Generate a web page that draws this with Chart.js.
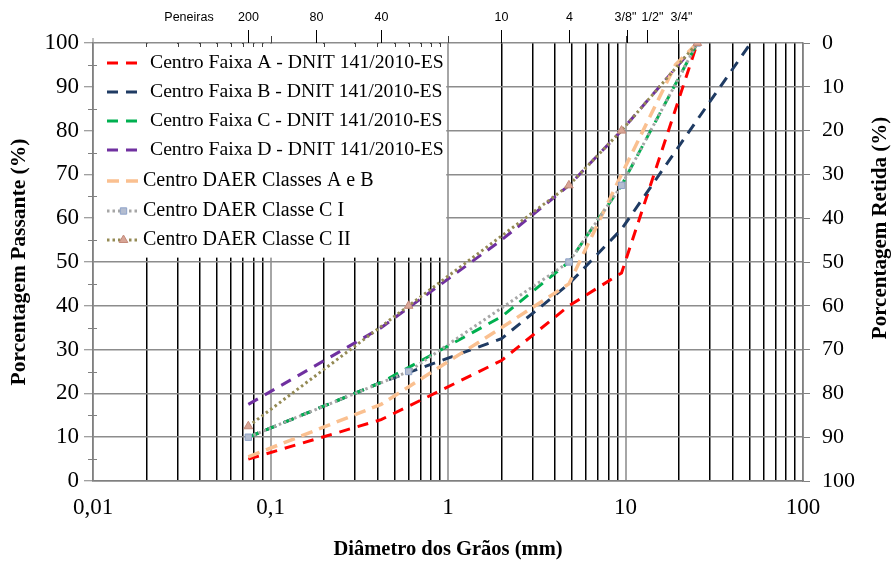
<!DOCTYPE html>
<html>
<head>
<meta charset="utf-8">
<script src="https://cdn.jsdelivr.net/npm/chart.js@4.4.0/dist/chart.umd.min.js"></script>
<style>
  html, body { margin: 0; padding: 0; background: #fff; }
  #wrap { position: relative; width: 891px; height: 563px; }
</style>
</head>
<body>
<div id="wrap"><canvas id="curvas" width="891" height="563"></canvas></div>
<script>
// aberturas das peneiras usadas por cada serie (mm)
const dnitSieves  = [0.075, 0.42, 2.0, 4.8, 9.5, 25.4];
const faixaBSieves = [0.075, 0.42, 2.0, 4.8, 9.5, 25.4, 50.8];
const daerABSieves = [0.075, 0.42, 2.0, 4.8, 9.5, 19.1, 25.4];
const daerCSieves  = [0.075, 0.6, 4.8, 9.5, 25.4];

// porcentagem passante (centro das faixas)
const faixaA = [5, 14, 27.5, 40, 47.5, 100];
const faixaB = [10, 22.5, 32.5, 45, 57.5, 82.5, 100];
const faixaC = [10, 22.5, 37.5, 50, 67.5, 100];
const faixaD = [17.5, 35, 55, 67.5, 80, 100];
const daerAB = [5.5, 17.5, 35, 45, 70, 95, 100];
const daerC1 = [10, 25, 50, 67.5, 100];
const daerC2 = [12.5, 40, 67.5, 80, 100];

const seriesNames = [
  'Centro Faixa A - DNIT 141/2010-ES',
  'Centro Faixa B - DNIT 141/2010-ES',
  'Centro Faixa C - DNIT 141/2010-ES',
  'Centro Faixa D - DNIT 141/2010-ES',
  'Centro DAER Classes A e B',
  'Centro DAER Classe C I',
  'Centro DAER Classe C II'
];

// eixo superior: peneiras (posicao como aparece no grafico)
const sieveLabels = ['200', '80', '40', '10', '4', '3/8"', '1/2"', '3/4"'];
const sieveMm     = [0.075, 0.18, 0.42, 2.0, 4.8, 10.2, 13.3, 19.8];

// rotulos das decadas no eixo x
const decadeLabels = { 0.01: '0,01', 0.1: '0,1', 1: '1', 10: '10', 100: '100' };

const pts = (xs, ys) => xs.map((x, i) => ({ x, y: ys[i] }));

const DNIT_DASH = [11, 8];
const DOTS = [2.5, 3];

const datasets = [
  { data: pts(dnitSieves, faixaA), borderColor: '#FF0000', borderDash: DNIT_DASH, borderWidth: 3 },
  { data: pts(faixaBSieves, faixaB), borderColor: '#1F3B63', borderDash: DNIT_DASH, borderWidth: 3 },
  { data: pts(dnitSieves, faixaC), borderColor: '#00B050', borderDash: DNIT_DASH, borderWidth: 3 },
  { data: pts(dnitSieves, faixaD), borderColor: '#7030A0', borderDash: DNIT_DASH, borderWidth: 3 },
  { data: pts(daerABSieves, daerAB), borderColor: '#FAC090', borderDash: [12, 7], borderWidth: 3.5 },
  { data: pts(daerCSieves, daerC1), borderColor: '#A6A6A6', borderDash: DOTS, borderWidth: 3,
    pointRadius: 4.5, pointStyle: 'rect', pointBackgroundColor: '#B4BDD0', pointBorderColor: '#8EA2C8', pointBorderWidth: 1 },
  { data: pts(daerCSieves, daerC2), borderColor: '#948A54', borderDash: DOTS, borderWidth: 3,
    pointRadius: 5, pointStyle: 'triangle', pointBackgroundColor: '#D8A596', pointBorderColor: '#C48A7A', pointBorderWidth: 1 }
].map((d, i) => Object.assign({
  label: seriesNames[i],
  order: 6 - i,
  tension: 0,
  fill: false,
  pointRadius: 0,
  pointHoverRadius: 0
}, d));

// caixa da legenda, legenda, eixo das peneiras, titulo da direita
const extras = {
  id: 'extras',
  beforeDatasetsDraw(chart) {
    const { ctx, chartArea: a, scales: { x, y } } = chart;
    ctx.save();
    ctx.fillStyle = '#fff';
    ctx.fillRect(a.left + 1, a.top + 1, x.getPixelForValue(0.99) - a.left - 2, y.getPixelForValue(51) - a.top - 1);
    ctx.restore();
  },
  afterDraw(chart) {
    const { ctx, chartArea: a, scales: { x, y } } = chart;
    ctx.save();

    // legenda
    const rowsY = [63, 92, 121, 150, 181, 211, 240];
    datasets.forEach((ds, i) => {
      const ly = rowsY[i];
      ctx.save();
      ctx.strokeStyle = ds.borderColor;
      ctx.lineWidth = ds.borderWidth;
      ctx.setLineDash(ds.borderDash);
      ctx.beginPath();
      ctx.moveTo(107, ly);
      ctx.lineTo(140, ly);
      ctx.stroke();
      ctx.restore();
      if (ds.pointRadius) {
        ctx.save();
        ctx.fillStyle = ds.pointBackgroundColor;
        ctx.strokeStyle = ds.pointBorderColor;
        ctx.lineWidth = 1;
        Chart.helpers.drawPoint(ctx, { pointStyle: ds.pointStyle, radius: ds.pointRadius, borderWidth: 1 }, 123.5, ly);
        ctx.restore();
      }
      ctx.fillStyle = '#000';
      ctx.textBaseline = 'middle';
      ctx.textAlign = 'left';
      ctx.font = i < 4 ? '19.7px "Liberation Serif"' : '20px "Liberation Serif"';
      ctx.fillText(ds.label, i < 4 ? 150 : 143, ly);
    });

    // pequenas marcas no eixo y esquerdo (5 em 5)
    ctx.strokeStyle = '#808080';
    ctx.lineWidth = 1;
    for (let v = 5; v < 100; v += 10) {
      const py = Math.round(y.getPixelForValue(v)) + 0.5;
      ctx.beginPath();
      ctx.moveTo(a.left - 5, py);
      ctx.lineTo(a.left + 4, py);
      ctx.stroke();
    }
    ctx.beginPath();
    ctx.moveTo(a.left, a.top - 5);
    ctx.lineTo(a.left, a.top);
    ctx.stroke();

    // marcas menores no topo
    ctx.strokeStyle = '#404040';
    for (let d = 0.01; d < 1; d *= 10) {
      for (let k = 2; k <= 9; k++) {
        const px = Math.round(x.getPixelForValue(d * k)) + 0.5;
        ctx.beginPath();
        ctx.moveTo(px, a.top);
        ctx.lineTo(px, a.top + 4);
        ctx.stroke();
      }
    }
    [0.1, 1, 10].forEach(d => {
      const px = Math.round(x.getPixelForValue(d)) + 0.5;
      ctx.beginPath();
      ctx.moveTo(px, a.top - 7);
      ctx.lineTo(px, a.top);
      ctx.stroke();
    });

    // peneiras
    ctx.strokeStyle = '#000';
    ctx.fillStyle = '#000';
    ctx.font = '12.5px "Liberation Sans"';
    ctx.textAlign = 'center';
    ctx.textBaseline = 'middle';
    const nudge = { '3/8"': -2, '1/2"': 5, '3/4"': 3 };
    sieveMm.forEach((mm, i) => {
      const px = Math.round(x.getPixelForValue(mm)) + 0.5;
      ctx.beginPath();
      ctx.moveTo(px, a.top - 13);
      ctx.lineTo(px, a.top);
      ctx.stroke();
      ctx.fillText(sieveLabels[i], px + (nudge[sieveLabels[i]] || 0), 18);
    });
    ctx.fillText('Peneiras', 189, 18);

    // titulo do eixo direito (lido de baixo para cima)
    ctx.save();
    ctx.translate(881, 228);
    ctx.rotate(-Math.PI / 2);
    ctx.font = 'bold 21px "Liberation Serif"';
    ctx.fillText('Porcentagem Retida (%)', 0, 0);
    ctx.restore();

    ctx.restore();
  }
};

const serif = '"Liberation Serif", "Times New Roman", serif';

new Chart(document.getElementById('curvas'), {
  type: 'line',
  data: { datasets },
  plugins: [extras],
  options: {
    responsive: false,
    animation: false,
    devicePixelRatio: 1,
    layout: { padding: { top: 43, left: 0, right: 0, bottom: 0 } },
    plugins: { legend: { display: false }, tooltip: { enabled: false } },
    scales: {
      x: {
        type: 'logarithmic',
        min: 0.01,
        max: 100,
        afterBuildTicks: scale => {
          const t = [];
          for (let d = 0.01; d < 100; d *= 10) {
            for (let k = 1; k <= 9; k++) t.push({ value: +(d * k).toPrecision(3) });
          }
          t.push({ value: 100 });
          scale.ticks = t;
        },
        afterFit: scale => { scale.height = 82; },
        ticks: {
          autoSkip: false,
          maxRotation: 0,
          padding: 13,
          color: '#000',
          font: { family: serif, size: 23 },
          callback: v => decadeLabels[v] || ''
        },
        grid: {
          drawTicks: false,
          color: ctx => (ctx.tick && decadeLabels[ctx.tick.value] ? '#A6A6A6' : '#000'),
          lineWidth: ctx => (ctx.tick && decadeLabels[ctx.tick.value] ? 2 : 1.5)
        },
        border: { color: '#808080', width: 1.5 },
        title: {
          display: true,
          text: 'Diâmetro dos Grãos (mm)',
          color: '#000',
          font: { family: serif, size: 20.5, weight: 'bold' },
          padding: { top: 0, bottom: 1 }
        }
      },
      y: {
        min: 0,
        max: 100,
        afterFit: scale => { scale.width = 93; },
        ticks: {
          stepSize: 10,
          padding: 5,
          color: '#000',
          font: { family: serif, size: 23 }
        },
        grid: { color: '#8C8C8C', lineWidth: 1.5, tickLength: 9, tickColor: '#808080', tickWidth: 1 },
        border: { color: '#808080', width: 1.5 },
        title: {
          display: true,
          text: 'Porcentagem Passante (%)',
          color: '#000',
          font: { family: serif, size: 21.5, weight: 'bold' },
          padding: { top: 7, bottom: 0 }
        }
      },
      y2: {
        position: 'right',
        min: 0,
        max: 100,
        reverse: true,
        afterFit: scale => { scale.width = 88; },
        ticks: {
          stepSize: 10,
          padding: 12,
          color: '#000',
          font: { family: serif, size: 22 }
        },
        grid: { drawOnChartArea: false, tickLength: 7, tickColor: '#808080', tickWidth: 1 },
        border: { color: '#808080', width: 1.5 }
      }
    }
  }
});
</script>
</body>
</html>
